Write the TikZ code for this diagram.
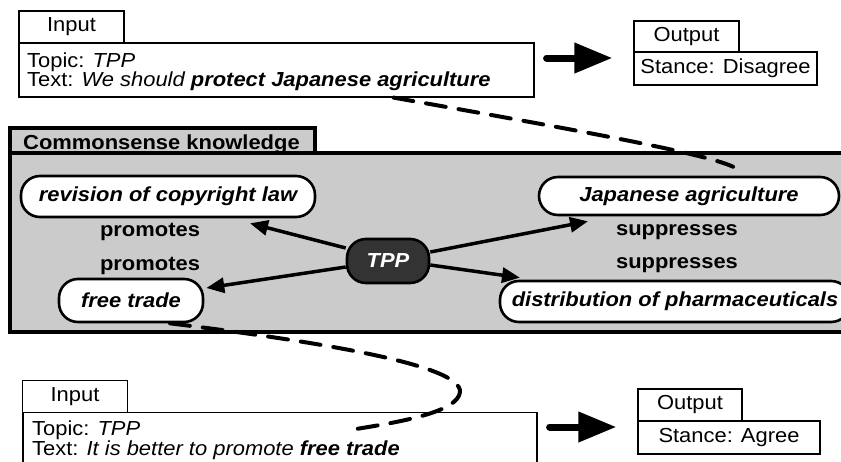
\documentclass[tikz,border=0pt]{standalone}
\usepackage{fontspec}
\setmainfont[FakeStretch=1.08]{Liberation Sans}
\usetikzlibrary{arrows.meta}
\definecolor{boxgray}{HTML}{CBCBCB}
\definecolor{tppfill}{HTML}{333333}
\begin{document}
\begin{tikzpicture}[x=1pt,y=-1pt,
  thinbox/.style={draw, line width=1.2pt, fill=white, inner sep=0pt, font=\fontsize{20.3}{19}\selectfont},
  txt/.style={inner sep=0pt, font=\fontsize{20.3}{19}\selectfont},
  concept/.style={draw, line width=2.6pt, fill=white, rounded corners=19pt, inner sep=0pt, font=\fontsize{20.3}{19}\selectfont\bfseries\itshape},
  lbl/.style={inner sep=0pt, font=\fontsize{20.3}{19}\selectfont\bfseries},
  rel/.style={line width=3.5pt, -{Triangle[length=18pt,width=15pt]}},
  bigarrow/.style={line width=7pt, line cap=round, -{Triangle[length=38pt,width=29pt]}},
  link/.style={line width=4pt, line cap=round, dash pattern=on 20pt off 13pt},
  kbox/.style={draw, line width=3.5pt, fill=boxgray, inner sep=0pt}
]
\useasboundingbox (0,0) rectangle (841,461);
\clip (0,0) rectangle (841,461);

% ---------- top input / output ----------
\node[thinbox, minimum width=105pt, minimum height=32pt] (in1tab) at (71.5,27) {Input};
\node[thinbox, minimum width=515pt, minimum height=54pt] (in1) at (276.5,70) {};
\node[txt, anchor=base west] (in1topic) at (27,67.5) {Topic: \textit{TPP}};
\node[txt, anchor=base west] (in1text) at (27,86.5) {Text: \textit{We should \textbf{protect Japanese agriculture}}};

\node[thinbox, minimum width=105pt, minimum height=31pt] (out1tab) at (686.5,36.5) {Output};
\node[thinbox, minimum width=183pt, minimum height=33pt] (out1) at (725.5,68.5) {Stance: Disagree};

\draw[bigarrow] ([xshift=12pt,yshift=12pt]in1.east) -- ([xshift=-21pt,yshift=10.5pt]out1.west);

% ---------- commonsense knowledge ----------
\node[kbox, minimum width=860pt, minimum height=179pt] (kb) at (440,242.5) {};
\node[kbox, minimum width=305pt, minimum height=25pt] (kbtab) at (162.5,140.5) {};
\node[lbl, anchor=base west] (kbtitle) at (23,149.5) {Commonsense knowledge};

\node[concept, minimum width=294pt, minimum height=41pt] (rev) at (168,196.5) {revision of copyright law};
\node[concept, minimum width=144pt, minimum height=43pt] (free) at (131,300.5) {free trade};
\node[concept, minimum width=82pt, minimum height=44pt, fill=tppfill, text=white] (tpp) at (388,261) {TPP};
\node[concept, minimum width=300pt, minimum height=38pt] (jap) at (689,196) {Japanese agriculture};
\node[concept, minimum width=350pt, minimum height=41pt] (dist) at (675,301.5) {distribution of pharmaceuticals};

\node[lbl] (l1) at (150,232) {promotes};
\node[lbl] (l2) at (150,266) {promotes};
\node[lbl] (l3) at (677,232) {suppresses};
\node[lbl] (l4) at (677,265) {suppresses};

\draw[rel] ([yshift=13pt]tpp.west) -- ([xshift=82pt,yshift=-5pt]rev.south);
\draw[rel] ([yshift=-6pt]tpp.west) -- ([xshift=2pt,yshift=12.5pt]free.east);
\draw[rel] ([yshift=9pt]tpp.east) -- ([xshift=-101pt,yshift=-5pt]jap.south);
\draw[rel] ([yshift=-4pt]tpp.east) -- ([xshift=-155pt,yshift=2pt]dist.north);

% ---------- bottom input / output ----------
\node[thinbox, minimum width=105pt, minimum height=32pt] (in2tab) at (75,396.5) {Input};
\node[thinbox, minimum width=514pt, minimum height=54pt] (in2) at (280,439.5) {};
\node[txt, anchor=base west] (in2topic) at (32,435) {Topic: \textit{TPP}};
\node[txt, anchor=base west] (in2text) at (32,455) {Text: \textit{It is better to promote \textbf{free trade}}};

\node[thinbox, minimum width=104pt, minimum height=32pt] (out2tab) at (690,405) {Output};
\node[thinbox, minimum width=182pt, minimum height=33pt] (out2) at (729,437.5) {Stance: Agree};

\draw[bigarrow] ([xshift=12pt,yshift=12.5pt]in2.east) -- ([xshift=-21pt,yshift=10.5pt]out2.west);

% ---------- dashed links ----------
\draw[link] ([xshift=117pt]in1.south) .. controls (600,134) and (705,154) .. ([xshift=44pt,yshift=9pt]jap.north);
\draw[link] ([xshift=39pt]free.south) .. controls (320,342) and (462,365) .. (460,392) .. controls (458,412) and (400,422) .. ([xshift=76pt,yshift=10.5pt]in2.center);
\end{tikzpicture}
\end{document}
